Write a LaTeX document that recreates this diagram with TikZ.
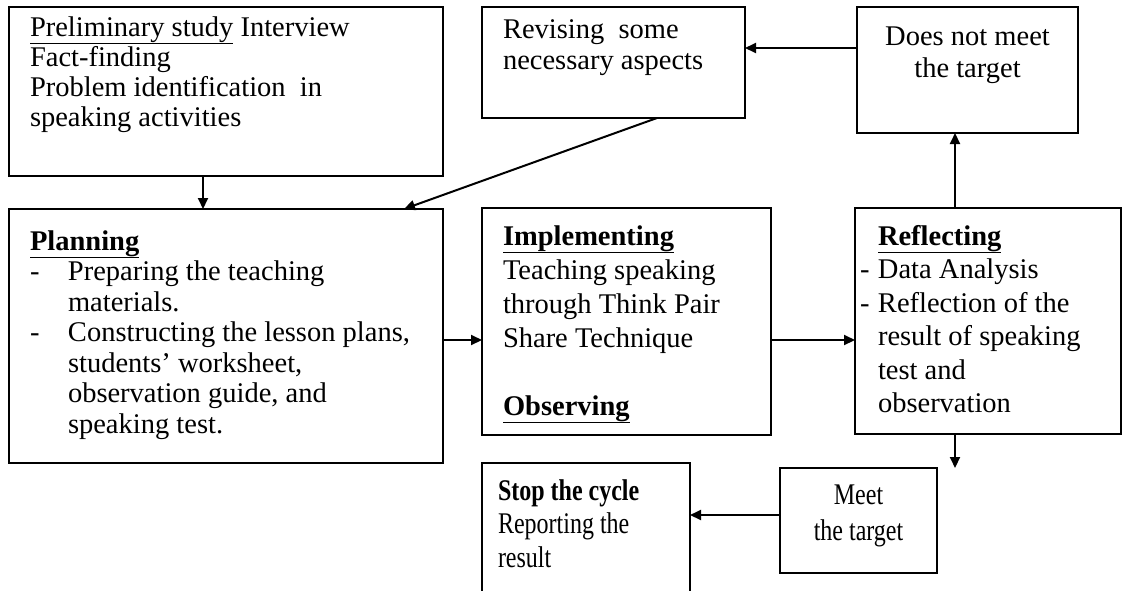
\documentclass[tikz,border=0pt]{standalone}
\usepackage{fontspec}
\setmainfont{Liberation Serif}
\usetikzlibrary{arrows.meta}
\tikzset{
  bx/.style={draw, line width=2pt, rectangle, inner sep=0pt, outer sep=0pt, anchor=north west},
  tx/.style={inner sep=0pt, outer sep=0pt, anchor=base west},
  txc/.style={inner sep=0pt, outer sep=0pt, anchor=base},
  arr/.style={line width=2pt, -{Triangle[length=11pt,width=10pt]}},
}
\newcommand{\fsz}[1]{\fontsize{28.5}{#1}\selectfont}
\newcommand{\fsm}[1]{\fontsize{24}{#1}\selectfont}
\newcommand{\hang}[1]{\makebox[#1][l]{-}}
\begin{document}
\begin{tikzpicture}[x=1pt,y=-1pt]
\clip (0,0) rectangle (1124,590);
\fill[white] (0,0) rectangle (1124,590);
% boxes
\node[bx, minimum width=434pt, minimum height=169pt] (A) at (9,7) {};
\node[bx, minimum width=434pt, minimum height=254pt] (P) at (9,209) {};
\node[bx, minimum width=263pt, minimum height=111pt] (R) at (482,7) {};
\node[bx, minimum width=221pt, minimum height=126pt] (D) at (857,7) {};
\node[bx, minimum width=289pt, minimum height=227pt] (I) at (482,208) {};
\node[bx, minimum width=266pt, minimum height=226pt] (F) at (855,208) {};
\node[bx, minimum width=208pt, minimum height=140pt] (S) at (482,463) {};
\node[bx, minimum width=157pt, minimum height=105pt] (M) at (780,468) {};
% texts
\node[tx] (At) at (30,36) {\fsz{30}\begin{tabular}[t]{@{}l@{}}
\underline{Preliminary study} Interview\\
Fact-finding\\
Problem identification\ \ in\\
speaking activities\end{tabular}};
\node[tx] (Pt) at (30,250) {\fsz{30.5}\begin{tabular}[t]{@{}l@{}}
\textbf{\underline{Planning}}\\
\hang{38pt}Preparing the teaching\\
\hspace*{38pt}materials.\\
\hang{38pt}Constructing the lesson plans,\\
\hspace*{38pt}students’ worksheet,\\
\hspace*{38pt}observation guide, and\\
\hspace*{38pt}speaking test.\end{tabular}};
\node[tx] (Rt) at (503,38) {\fsz{31}\begin{tabular}[t]{@{}l@{}}
Revising\ \ some\\
necessary aspects\end{tabular}};
\node[txc] (Dt) at (967.5,45) {\fsz{32}\begin{tabular}[t]{@{}c@{}}
Does not meet\\
the target\end{tabular}};
\node[tx] (It) at (503,245) {\fsz{34}\begin{tabular}[t]{@{}l@{}}
\textbf{\underline{Implementing}}\\
Teaching speaking\\
through Think Pair\\
Share Technique\\
\\
\textbf{\underline{Observing}}\end{tabular}};
\node[tx] (Ft) at (860,245) {\fsz{33.5}\begin{tabular}[t]{@{}l@{}}
\hspace*{18pt}\textbf{\underline{Reflecting}}\\
\hang{18pt}Data Analysis\\
\hang{18pt}Reflection of the\\
\hspace*{18pt}result of speaking\\
\hspace*{18pt}test and\\
\hspace*{18pt}observation\end{tabular}};
\node[tx] (St) at (498,500) {\fsm{26.8}\scalebox{1}[1.25]{\begin{tabular}[t]{@{}l@{}}
\textbf{Stop the cycle}\\
Reporting the\\
result\end{tabular}}};
\node[txc] (Mt) at (858.5,504) {\fsm{28.8}\scalebox{1}[1.25]{\begin{tabular}[t]{@{}c@{}}
Meet\\
the target\end{tabular}}};
% connectors
\draw[arr] ([xshift=-23pt]A.south) -- ([xshift=-23pt]P.north);
\draw[arr] ([xshift=43.5pt]R.south) -- ([xshift=178pt]P.north);
\draw[arr] ([yshift=22pt]D.west) -- ([yshift=14.5pt]R.east);
\draw[arr] ([xshift=-33pt]F.north) -- ([xshift=-12.5pt]D.south);
\draw[arr] ([yshift=-4pt]P.east) -- ([yshift=-18.5pt]I.west);
\draw[arr] ([yshift=-18.5pt]I.east) -- ([yshift=-19pt]F.west);
\draw[arr] ([xshift=-33pt]F.south) -- ([xshift=96.5pt]M.north);
\draw[arr] ([yshift=5.5pt]M.west) -- ([yshift=18pt]S.east);
\end{tikzpicture}
\end{document}
